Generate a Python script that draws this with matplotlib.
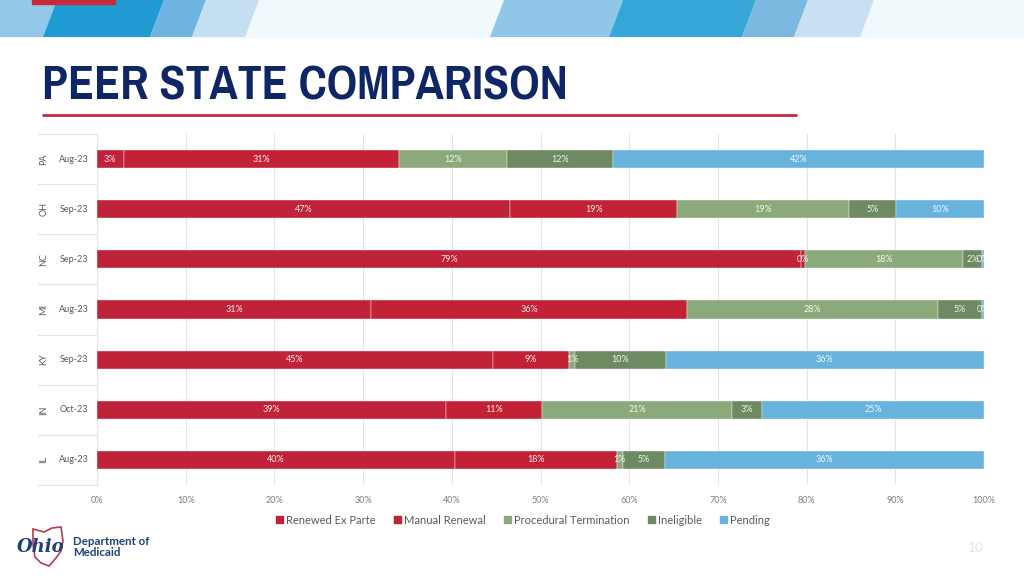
import matplotlib
matplotlib.use("Agg")
import matplotlib.pyplot as plt
from matplotlib import font_manager
from matplotlib.font_manager import FontProperties
from matplotlib.patches import Polygon, Rectangle, Patch
import matplotlib.transforms as mtransforms

# ---------------- data ----------------
states = ["PA", "OH", "NC", "MI", "KY", "IN", "IL"]
months = ["Aug-23", "Sep-23", "Sep-23", "Aug-23", "Sep-23", "Oct-23", "Aug-23"]
series_names = ["Renewed Ex Parte", "Manual Renewal", "Procedural Termination", "Ineligible", "Pending"]
renewed_ex_parte = [3.0, 46.6, 79.4, 30.9, 44.6, 39.4, 40.4]
manual_renewal = [31.0, 18.8, 0.4, 35.6, 8.6, 10.8, 18.2]
procedural_termination = [12.2, 19.4, 17.8, 28.3, 0.7, 21.4, 0.7]
ineligible = [12.0, 5.3, 2.2, 5.0, 10.2, 3.4, 4.7]
pending = [41.8, 9.9, 0.2, 0.2, 35.9, 25.0, 36.0]
x_ticks = [0, 10, 20, 30, 40, 50, 60, 70, 80, 90, 100]

colors = ["#BF2239", "#C32136", "#8CA97B", "#6E8A62", "#67B3DD"]

names = {f.name for f in font_manager.fontManager.ttflist}
base_font = "Lato" if "Lato" in names else "DejaVu Sans"
plt.rcParams["font.family"] = [base_font, "DejaVu Sans"]

# pick a condensed bold face for the title if one is installed
cands = []
for f in font_manager.fontManager.ttflist:
    fn = f.fname.lower()
    if ("condensed" in fn or "narrow" in fn) and ("bold" in fn) and ("oblique" not in fn) and ("italic" not in fn):
        cands.append(f.fname)
if cands:
    cands.sort(key=lambda p: (0 if "narrow" in p.lower() else 1, len(p)))
    title_fp = FontProperties(fname=cands[0])
else:
    title_fp = FontProperties(family=base_font, weight="bold")

W, H = 1024, 576
fig = plt.figure(figsize=(W / 100, H / 100), dpi=100)

# background axes in pixel coordinates
bg = fig.add_axes([0, 0, 1, 1])
bg.set_xlim(0, W)
bg.set_ylim(H, 0)
bg.axis("off")

# header band
band_h = 37
slant = 14
bg.add_patch(Rectangle((0, 0), W, band_h, color="#F2F9FC", zorder=0))
stripes = [
    (-20, 43, "#93C8E8"),
    (43, 150, "#1F9AD3"),
    (150, 192, "#6DB4E1"),
    (192, 245, "#C5DFF2"),
    (490, 609, "#90C7E8"),
    (609, 742, "#35A6D7"),
    (742, 794, "#7CB9E1"),
    (794, 860, "#C7E1F3"),
]
for xb0, xb1, c in stripes:
    bg.add_patch(Polygon([(xb0, band_h), (xb1, band_h), (xb1 + slant, 0), (xb0 + slant, 0)],
                         closed=True, color=c, zorder=1, lw=0))
bg.add_patch(Rectangle((32, 0), 83, 4, color="#C8283C", zorder=2))

# title and rule (font size fitted to the reference width)
title = bg.text(42, 86, "PEER STATE COMPARISON", fontproperties=title_fp,
                color="#0F2666", va="center", ha="left")
title.set_fontsize(34)
renderer = fig.canvas.get_renderer()
w = title.get_window_extent(renderer).width
title.set_fontsize(min(40, 34 * 526.0 / w))
bg.plot([42, 797], [115, 115], color="#C8283C", lw=2, solid_capstyle="butt")

# page number
bg.text(976, 548, "10", fontsize=10, color="#E6E6E6", ha="center", va="center")

# logo
ohio = [(33, 529), (44, 532), (52, 528), (61, 527), (63, 541), (61, 551), (56, 558),
        (49, 566), (41, 563), (35, 557), (33, 545)]
bg.add_patch(Polygon(ohio, closed=True, fill=False, edgecolor="#B83A52", lw=1.2, zorder=3))
bg.text(41, 547, "Ohio", fontsize=13, style="italic", fontweight="bold",
        family=["DejaVu Serif"], color="#1E3F78", ha="center", va="center", zorder=4)
bg.text(73, 547, "Department of\nMedicaid", fontsize=8.3, fontweight="bold",
        color="#1E3F78", ha="left", va="center", linespacing=1.05)

# ---------------- chart ----------------
ax_l, ax_r, ax_t, ax_b = 97, 984, 134, 485
ax = fig.add_axes([ax_l / W, 1 - ax_b / H, (ax_r - ax_l) / W, (ax_b - ax_t) / H])
ax.patch.set_alpha(0)
n = len(states)
ypos = list(range(n))
series = [renewed_ex_parte, manual_renewal, procedural_termination, ineligible, pending]
left = [0.0] * n
for name, vals, c in zip(series_names, series, colors):
    ax.barh(ypos, vals, left=left, height=0.36, color=c, edgecolor="#F2F2F2",
            linewidth=0.3, label=name, zorder=3)
    for i, v in enumerate(vals):
        ax.text(left[i] + v / 2, i, f"{round(v)}%", ha="center", va="center",
                fontsize=6.5, color="white", alpha=0.9, zorder=4)
    left = [a + b for a, b in zip(left, vals)]

ax.set_xlim(0, 100)
ax.set_ylim(n - 0.5, -0.5)
ax.set_xticks(x_ticks)
ax.set_xticklabels([f"{t}%" for t in x_ticks], fontsize=6.5, color="#7F7F7F")
ax.tick_params(axis="x", length=0, pad=8)
ax.set_yticks([])
ax.grid(axis="x", color="#E3E3E3", lw=0.8, zorder=0)
for s in ["top", "right", "bottom"]:
    ax.spines[s].set_visible(False)
ax.spines["left"].set_color("#E6E6E6")
ax.spines["left"].set_linewidth(0.8)

# multi-level category labels
trans = mtransforms.blended_transform_factory(bg.transData, ax.transData)
for i, (st, mo) in enumerate(zip(states, months)):
    ax.text(74, i, mo, transform=trans, fontsize=6.5, color="#595959",
            ha="center", va="center")
    ax.text(44, i, st, transform=trans, fontsize=6.5, color="#595959",
            ha="center", va="center", rotation=90)
for k in range(n + 1):
    ax.plot([38, 97], [k - 0.5, k - 0.5], transform=trans, color="#E3E3E3",
            lw=0.8, clip_on=False)

# legend
handles = [Patch(color=c) for c in colors]
fig.legend(handles, series_names, loc="center", bbox_to_anchor=(523 / W, 1 - 520 / H),
           ncol=5, frameon=False, fontsize=8, handlelength=0.65, handleheight=0.65,
           handletextpad=0.3, columnspacing=1.6, labelcolor="#595959")

fig.savefig("out.png", dpi=100)
